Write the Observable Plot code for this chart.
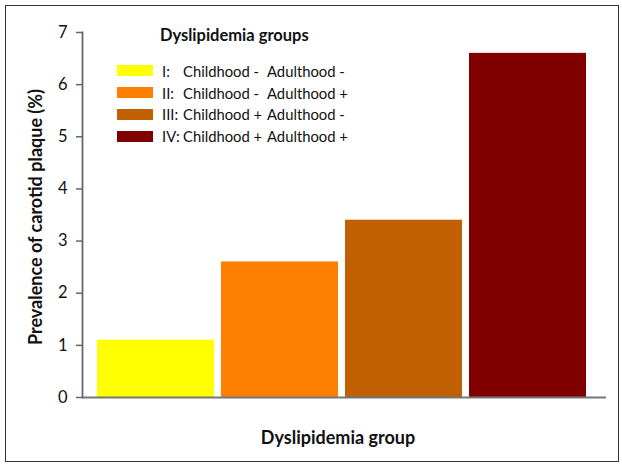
<!DOCTYPE html>
<html>
<head>
<meta charset="utf-8">
<script src="https://cdn.jsdelivr.net/npm/d3@7"></script>
<script src="https://cdn.jsdelivr.net/npm/@observablehq/plot@0.6"></script>
<style>
  html, body { margin: 0; padding: 0; background: #fff; }
  #wrap { position: relative; width: 622px; height: 466px; overflow: hidden; font-family: Lato, "Open Sans", sans-serif; }
  #border { position: absolute; left: 5px; top: 5px; width: 614px; height: 457px; border: 1.5px solid #333; box-sizing: border-box; pointer-events: none; }
  #legend { position: absolute; left: 117px; top: 25px; font-size: 14.8px; color: #111; }
  #legend .title { font-weight: bold; font-size: 16.5px; margin-left: 43px; margin-bottom: 15px; }
  #legend .row { display: flex; align-items: center; height: 21.8px; white-space: nowrap; }
  #legend .sw { width: 36px; height: 11px; margin-right: 9px; flex: none; }
  #legend .num { width: 21px; flex: none; }
  #legend .c1 { width: 84px; flex: none; }
  #ytitle { position: absolute; left: 35px; top: 217px; transform: translate(-50%, -50%) rotate(-90deg); white-space: nowrap; font-weight: bold; font-size: 18px; color: #111; }
  #xtitle { position: absolute; left: 338px; top: 437px; transform: translate(-50%, -50%); white-space: nowrap; font-weight: bold; font-size: 18px; color: #111; }
</style>
</head>
<body>
<div id="wrap">
  <div id="chart"></div>
  <div id="legend"></div>
  <div id="ytitle">Prevalence of carotid plaque (%)</div>
  <div id="xtitle">Dyslipidemia group</div>
  <div id="border"></div>
</div>
<script>
const groups = ["I", "II", "III", "IV"];
const prevalence = [1.1, 2.6, 3.4, 6.6];
const colors = ["#ffff00", "#ff8000", "#c06000", "#800000"];
const childhood = ["Childhood -", "Childhood -", "Childhood +", "Childhood +"];
const adulthood = ["Adulthood -", "Adulthood +", "Adulthood -", "Adulthood +"];
const yTicks = [0, 1, 2, 3, 4, 5, 6, 7];
const legendTitle = "Dyslipidemia groups";

const data = groups.map((g, i) => ({group: g, value: prevalence[i]}));

const chart = Plot.plot({
  width: 622,
  height: 466,
  marginLeft: 82,
  marginRight: 16,
  marginTop: 32,
  marginBottom: 69,
  style: {fontFamily: "Lato, 'Open Sans', sans-serif", fontSize: "16px", color: "#111", background: "transparent"},
  x: {domain: groups, paddingInner: 0.06, paddingOuter: 0.13, align: 0.42, axis: null},
  y: {domain: [0, 7], ticks: yTicks, label: null},
  color: {domain: groups, range: colors},
  marks: [
    Plot.barY(data, {x: "group", y: "value", fill: "group"}),
    Plot.axisY({ticks: yTicks, tickFormat: "d", tickSize: 6, tickPadding: 9, stroke: "#666", strokeWidth: 1.5, fill: "#111", fontSize: 16.5, label: null}),
    Plot.frame({anchor: "left", stroke: "#666", strokeWidth: 1.8}),
    Plot.ruleY([0], {stroke: "#777", strokeWidth: 2.2})
  ]
});
document.getElementById("chart").appendChild(chart);

const legend = document.getElementById("legend");
const t = document.createElement("div");
t.className = "title";
t.textContent = legendTitle;
legend.appendChild(t);
groups.forEach((g, i) => {
  const row = document.createElement("div");
  row.className = "row";
  row.innerHTML = `<span class="sw" style="background:${colors[i]}"></span><span class="num">${g}:</span><span class="c1">${childhood[i]}</span><span>${adulthood[i]}</span>`;
  legend.appendChild(row);
});
</script>
</body>
</html>
